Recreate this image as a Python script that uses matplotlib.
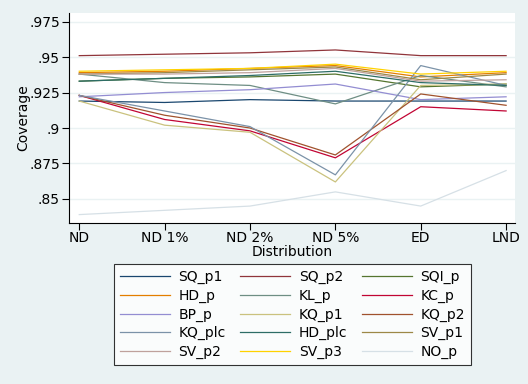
import matplotlib
matplotlib.use("Agg")
import matplotlib.pyplot as plt

####> DATA <####
distributions = ["ND", "ND 1%", "ND 2%", "ND 5%", "ED", "LND"]

SQ_p1  = [0.919, 0.918, 0.920, 0.919, 0.919, 0.919]
SQ_p2  = [0.951, 0.952, 0.953, 0.955, 0.951, 0.951]
SQI_p  = [0.933, 0.935, 0.936, 0.938, 0.929, 0.931]
HD_p   = [0.939, 0.940, 0.942, 0.944, 0.936, 0.939]
KL_p   = [0.938, 0.932, 0.930, 0.917, 0.937, 0.929]
KC_p   = [0.923, 0.906, 0.898, 0.879, 0.915, 0.912]
BP_p   = [0.922, 0.925, 0.927, 0.931, 0.920, 0.922]
KQ_p1  = [0.919, 0.902, 0.897, 0.862, 0.930, 0.931]
KQ_p2  = [0.923, 0.909, 0.900, 0.881, 0.924, 0.916]
KQ_plc = [0.923, 0.912, 0.901, 0.867, 0.944, 0.930]
HD_plc = [0.933, 0.935, 0.937, 0.940, 0.932, 0.930]
SV_p1  = [0.938, 0.939, 0.941, 0.943, 0.934, 0.938]
SV_p2  = [0.938, 0.938, 0.939, 0.942, 0.933, 0.934]
SV_p3  = [0.940, 0.941, 0.942, 0.945, 0.938, 0.940]
NO_p   = [0.839, 0.842, 0.845, 0.855, 0.845, 0.870]

series_names = ["SQ_p1", "SQ_p2", "SQI_p", "HD_p", "KL_p", "KC_p", "BP_p", "KQ_p1",
                "KQ_p2", "KQ_plc", "HD_plc", "SV_p1", "SV_p2", "SV_p3", "NO_p"]
series_values = [SQ_p1, SQ_p2, SQI_p, HD_p, KL_p, KC_p, BP_p, KQ_p1,
                 KQ_p2, KQ_plc, HD_plc, SV_p1, SV_p2, SV_p3, NO_p]

yticks = [0.85, 0.875, 0.9, 0.925, 0.95, 0.975]
ytick_labels = [".85", ".875", ".9", ".925", ".95", ".975"]

# Stata s2color palette
colors = ["#1a476f", "#90353b", "#55752f", "#e37e00", "#6e8e84", "#c10534",
          "#938dd2", "#cac27e", "#a0522d", "#7b92a8", "#2d6d66", "#9c8847",
          "#bfa19c", "#ffd200", "#d6e0e6"]

####> PLOT <####
BG = "#eaf2f3"
fig = plt.figure(figsize=(5.28, 3.84), dpi=100, facecolor=BG)
ax = fig.add_axes([0.1307, 0.419, 0.844, 0.547])
ax.set_facecolor("white")

x = list(range(len(distributions)))
handles = []
for name, vals, c in zip(series_names, series_values, colors):
    h, = ax.plot(x, vals, color=c, lw=0.9, label=name)
    handles.append(h)

ax.set_xlim(-0.12, 5.1)
ax.set_ylim(0.833, 0.981)
ax.set_xticks(x)
ax.set_xticklabels(distributions, fontsize=10)
ax.set_yticks(yticks)
ax.set_yticklabels(ytick_labels, fontsize=10)
ax.yaxis.grid(True, color=BG, lw=1)
ax.set_axisbelow(True)
for s in ["top", "right"]:
    ax.spines[s].set_visible(False)
for s in ["left", "bottom"]:
    ax.spines[s].set_color("black")
    ax.spines[s].set_linewidth(0.8)
ax.tick_params(direction="out", length=5, width=0.8)
ax.tick_params(axis="x", pad=0.5)
ax.tick_params(axis="y", pad=1.5)
ax.set_xlabel("Distribution", fontsize=10, labelpad=0)
ax.set_ylabel("Coverage", fontsize=10, labelpad=-0.5)

# Stata fills legend row by row; matplotlib fills column by column
order = [i for col in range(3) for i in range(col, len(handles), 3)]
leg = fig.legend([handles[i] for i in order], [series_names[i] for i in order],
                 ncol=3, loc="lower left",
                 bbox_to_anchor=(114 / 528, 1 - 365 / 384, 357 / 528, 98 / 384),
                 mode="expand", fontsize=10, frameon=True, fancybox=False,
                 edgecolor="black", handlelength=3.6, handletextpad=0.6,
                 labelspacing=0.32, borderpad=0.45, borderaxespad=0)
leg.get_frame().set_linewidth(0.8)

fig.savefig("out.png", dpi=100, facecolor=BG)
